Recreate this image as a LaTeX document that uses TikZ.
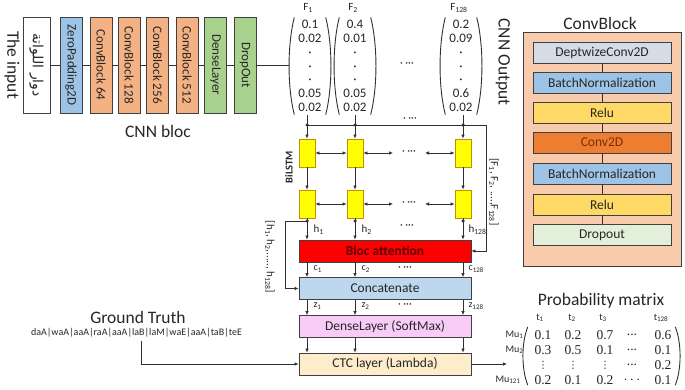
\documentclass[tikz,border=0pt]{standalone}
\usepackage{fontspec}
\setmainfont{Carlito}
\newfontfamily\serifnum{Liberation Serif}
\newfontfamily\dejavu{DejaVu Sans}
\newfontfamily\arabicfont[Script=Arabic]{DejaVu Sans}
\TeXXeTstate=1
\usetikzlibrary{arrows.meta,calc}
\definecolor{bluefill}{HTML}{9DC3E6}
\definecolor{orangefill}{HTML}{F4B183}
\definecolor{greenfill}{HTML}{A9D18E}
\definecolor{peach}{HTML}{F8CBAD}
\definecolor{grayblue}{HTML}{D6DCE5}
\definecolor{goldfill}{HTML}{FFD966}
\definecolor{convfill}{HTML}{ED7D31}
\definecolor{convtxt}{HTML}{7A2E05}
\definecolor{palegreen}{HTML}{E2F0D9}
\definecolor{lstmfill}{HTML}{FFFF00}
\definecolor{lstmedge}{HTML}{BF9000}
\definecolor{concatfill}{HTML}{BDD7EE}
\definecolor{pinkfill}{HTML}{F9CCF8}
\definecolor{ctcfill}{HTML}{FDEDCB}
\definecolor{edgec}{HTML}{404040}
\definecolor{linec}{HTML}{303030}
\definecolor{txt}{HTML}{262626}
\definecolor{attxt}{HTML}{5A0000}
\newcommand{\fsz}[1]{\fontsize{#1}{#1}\selectfont}
\newcommand{\mydots}{...}
\newcommand{\mycdots}{\(\cdots\)}
\newcommand{\myvdots}{{\dejavu\fsz{10}⋮}}
\tikzset{
  cnnblk/.style={draw=edgec, line width=0.8pt, minimum width=22pt, minimum height=96pt, inner sep=0pt, font=\fsz{13}},
  cbbox/.style={draw=edgec, line width=0.8pt, minimum width=138pt, minimum height=21pt, inner sep=0pt, font=\fsz{13.5}},
  lstm/.style={draw=lstmedge, fill=lstmfill, line width=0.8pt, minimum width=16pt, minimum height=28pt, inner sep=0pt},
  wide/.style={draw=edgec, line width=0.8pt, minimum width=172pt, minimum height=22pt, inner sep=0pt, font=\fsz{13.5}},
  conn/.style={draw=linec, line width=0.7pt},
  arr/.style={conn, -{Latex[length=4pt,width=3.5pt]}},
  darr/.style={conn, {Latex[length=4pt,width=3.5pt]}-{Latex[length=4pt,width=3.5pt]}},
  jdot/.style={circle, fill=linec, inner sep=0pt, minimum size=3.5pt},
  titletxt/.style={font=\fsz{17.5}},
  smalltxt/.style={font=\fsz{11}},
  tinytxt/.style={font=\fsz{10}},
  vec/.style={minimum width=41pt, minimum height=97pt, inner sep=0pt, align=center, font=\fontsize{13}{13.8}\selectfont},
  paren/.style={draw=linec, line width=0.9pt},
  valtxt/.style={font=\serifnum\fsz{13.5}, inner sep=1pt},
}
\begin{document}
\begin{tikzpicture}[x=1pt,y=-1pt, every node/.style={text=txt}]
\useasboundingbox (0,0) rectangle (685,390);

% ---------------- CNN bloc ----------------
\node[rotate=-90, titletxt] (theinput) at (12,65) {The input};
\node[cnnblk, fill=white, minimum width=27pt] (inp) at (36.5,65) {\rotatebox{-90}{\fsz{14}\arabicfont\beginR دوار اللواتة\endR}};
\node[cnnblk, fill=bluefill] (zp) at (71,65) {\rotatebox{-90}{ZeroPadding2D}};
\node[cnnblk, fill=orangefill] (c64) at (101,65) {\rotatebox{-90}{ConvBlock 64}};
\node[cnnblk, fill=orangefill] (c128) at (129,65) {\rotatebox{-90}{ConvBlock 128}};
\node[cnnblk, fill=orangefill] (c256) at (157.5,65) {\rotatebox{-90}{ConvBlock 256}};
\node[cnnblk, fill=orangefill] (c512) at (187,65) {\rotatebox{-90}{ConvBlock 512}};
\node[cnnblk, fill=greenfill] (dense) at (215.5,65) {\rotatebox{-90}{DenseLayer}};
\node[cnnblk, fill=greenfill] (drop) at (245,65) {\rotatebox{-90}{DropOut}};
\node[titletxt] (cnnbloc) at (158,131) {CNN bloc};
\draw[conn] (inp.east) -- (zp.west);
\draw[conn] (zp.east) -- (c64.west);
\draw[conn] (c64.east) -- (c128.west);
\draw[conn] (c128.east) -- (c256.west);
\draw[conn] (c256.east) -- (c512.west);
\draw[conn] (c512.east) -- (dense.west);
\draw[conn] (dense.east) -- (drop.west);

% ---------------- CNN output vectors ----------------
\node[vec] (f1) at (310,66) {0.1\\0.02\\·\\·\\·\\0.05\\0.02};
\node[vec] (f2) at (355,66) {0.4\\0.01\\·\\·\\·\\0.05\\0.02};
\node[vec] (f128) at (461,66) {0.2\\0.09\\·\\·\\·\\0.6\\0.02};
\foreach \v in {f1,f2,f128} {
  \draw[paren] ([xshift=5pt]\v.north west) .. controls +(-7,28) and +(-7,-28) .. ([xshift=5pt]\v.south west);
  \draw[paren] ([xshift=-5pt]\v.north east) .. controls +(7,28) and +(7,-28) .. ([xshift=-5pt]\v.south east);
}
\node[smalltxt] (lf1) at (308,8) {F\textsubscript{1}};
\node[smalltxt] (lf2) at (353,8) {F\textsubscript{2}};
\node[smalltxt] (lf128) at (459,8) {F\textsubscript{128}};
\node[smalltxt] (vdots) at (407,65) {· ···};
\node[rotate=-90, titletxt] (cnnout) at (503,62) {CNN Output};
\draw[conn] (drop.east) -- (drop.east -| f1.west);

% ---------------- lower column boxes ----------------
\node[wide, fill=red, font=\fsz{13.5}\bfseries, text=attxt] (att) at (385,251) {Bloc attention};
\node[wide, fill=concatfill] (cat) at (385,288.5) {Concatenate};
\node[wide, fill=pinkfill] (den) at (385,326.5) {DenseLayer (SoftMax)};
\node[wide, fill=ctcfill] (ctc) at (385,364) {CTC layer (Lambda)};

% ---------------- BiLSTM ----------------
\coordinate (col1) at (307,0);
\coordinate (col2) at (355,0);
\coordinate (col3) at (463,0);
\foreach \c in {1,2,3} {
  \node[lstm] (la\c) at ($(col\c)+(0,153)$) {};
  \node[lstm] (lb\c) at ($(col\c)+(0,204)$) {};
  \draw[arr] (la\c.south) -- (lb\c.north);
}
\node[rotate=90, font=\fsz{10.5}\bfseries] (bilstm) at (289,167) {BiLSTM};
\draw[arr] (la1.north |- f1.south) -- (la1.north);
\draw[arr] (la2.north |- f2.south) -- (la2.north);
\draw[arr] (la3.north |- f128.south) -- (la3.north);
\coordinate (tbus) at (486,125);
\draw[arr] (la1.north |- tbus) -- (tbus) |- (att.east);
\foreach \c in {1,2,3} \node[jdot] (td\c) at (la\c.north |- tbus) {};
\node[smalltxt] (topdots) at (410,120) {· ···};
\node[rotate=-90, smalltxt] (flist) at (494,192) {[F\textsubscript{1}, F\textsubscript{2}, ....,F\textsubscript{128}]};

\coordinate (ra1) at (393,153);
\coordinate (ra2) at (425,153);
\coordinate (rb1) at (393,204);
\coordinate (rb2) at (425,204);
\draw[darr] (la1.east) -- (la2.west);
\draw[darr] (la2.east) -- (ra1);
\draw[darr] (ra2) -- (la3.west);
\draw[darr] (lb1.east) -- (lb2.west);
\draw[darr] (lb2.east) -- (rb1);
\draw[darr] (rb2) -- (lb3.west);
\node[smalltxt] (rowadots) at (409,153) {· ···};
\node[smalltxt] (rowbdots) at (409,204) {· ···};

% h outputs
\coordinate (hbus) at (285,221);
\foreach \c in {1,2,3} {
  \draw[arr] (lb\c.south) -- (att.north -| lb\c.south);
  \node[jdot] (hd\c) at (lb\c.south |- hbus) {};
}
\draw[arr] (lb1.south |- hbus) -- (hbus) |- (cat.west);
\node[smalltxt, anchor=west] (h1) at (310,230) {h\textsubscript{1}};
\node[smalltxt, anchor=west] (h2) at (358,230) {h\textsubscript{2}};
\node[smalltxt, anchor=west] (h128) at (465,230) {h\textsubscript{128}};
\node[smalltxt] (hdots) at (407,227) {· ···};
\node[rotate=-90, smalltxt] (hlist) at (270,257) {[h\textsubscript{1}, h\textsubscript{2},....., h\textsubscript{128}]};

% c and z
\foreach \c in {1,2,3} {
  \draw[arr] (att.south -| col\c) -- (cat.north -| col\c);
  \draw[arr] (cat.south -| col\c) -- (den.north -| col\c);
  \draw[arr] (den.south -| col\c) -- (ctc.north -| col\c);
}
\node[tinytxt, anchor=west] (cl1) at (310,269) {c\textsubscript{1}};
\node[tinytxt, anchor=west] (cl2) at (358,269) {c\textsubscript{2}};
\node[tinytxt, anchor=west] (cl128) at (465,269) {c\textsubscript{128}};
\node[smalltxt] (cdots) at (405,269) {· ···};
\node[tinytxt, anchor=west] (zl1) at (310,306) {z\textsubscript{1}};
\node[tinytxt, anchor=west] (zl2) at (358,306) {z\textsubscript{2}};
\node[tinytxt, anchor=west] (zl128) at (465,306) {z\textsubscript{128}};
\node[smalltxt] (zdots) at (405,306) {· ···};

% ---------------- Ground truth ----------------
\node[titletxt] (gtt) at (138,317) {Ground Truth};
\node[tinytxt] (gtx) at (136.5,333) {daA|waA|aaA|raA|aaA|laB|laM|waE|aaA|taB|teE};
\draw[arr] ([xshift=4.5pt]gtx.south) |- (ctc.west);

% ---------------- Probability matrix ----------------
\node[titletxt] (pmt) at (601,301) {Probability matrix};
\node[tinytxt] (t1) at (540,318) {t\textsubscript{1}};
\node[tinytxt] (t2) at (572,318) {t\textsubscript{2}};
\node[tinytxt] (t3) at (603,318) {t\textsubscript{3}};
\node[tinytxt] (t128) at (661,318) {t\textsubscript{128}};
\node[tinytxt, anchor=east] (mu1) at (527,335) {Mu\textsubscript{1}};
\node[tinytxt, anchor=east] (mu2) at (527,350) {Mu\textsubscript{2}};
\node[tinytxt, anchor=east] (mu121) at (524,380) {Mu\textsubscript{121}};
\foreach \r/\y/\va/\vb/\vc/\vd/\ve in {1/335/0.1/0.2/0.7/\mydots/0.6, 2/350/0.3/0.5/0.1/\mydots/0.1, 3/365/\myvdots/\myvdots/\myvdots/\mydots/0.2, 4/380/0.2/0.1/0.2/\mycdots/0.1} {
  \node[valtxt] (pm-\r-1) at (543,\y) {\va};
  \node[valtxt] (pm-\r-2) at (573,\y) {\vb};
  \node[valtxt] (pm-\r-3) at (605,\y) {\vc};
  \node[valtxt] (pm-\r-4) at (632,\y) {\vd};
  \node[valtxt] (pm-\r-5) at (663,\y) {\ve};
}
\node[minimum width=157pt, minimum height=58pt, inner sep=0pt] (pmb) at (601.5,356) {};
\draw[paren] ([xshift=5pt]pmb.north west) .. controls +(-6.5,16) and +(-6.5,-16) .. ([xshift=5pt]pmb.south west);
\draw[paren] ([xshift=-5pt]pmb.north east) .. controls +(6.5,16) and +(6.5,-16) .. ([xshift=-5pt]pmb.south east);
\coordinate (pin) at (507,364);
\draw[arr] (ctc.east) -- (pin);

% ---------------- ConvBlock ----------------
\node[titletxt] (cbt) at (600,23) {ConvBlock};
\node[draw=edgec, line width=0.8pt, fill=peach, minimum width=158pt, minimum height=234pt, inner sep=0pt] (cbo) at (602,149) {};
\node[cbbox, fill=grayblue] (b1) at (602,52.5) {DeptwizeConv2D};
\node[cbbox, fill=bluefill] (b2) at (602,82.5) {BatchNormalization};
\node[cbbox, fill=goldfill] (b3) at (602,112.5) {Relu};
\node[cbbox, fill=convfill, text=convtxt] (b4) at (602,142.5) {Conv2D};
\node[cbbox, fill=bluefill] (b5) at (602,173.5) {BatchNormalization};
\node[cbbox, fill=goldfill] (b6) at (602,204.5) {Relu};
\node[cbbox, fill=palegreen] (b7) at (602,235) {Dropout};
\draw[conn] (b1.south) -- (b2.north);
\draw[conn] (b2.south) -- (b3.north);
\draw[conn] (b3.south) -- (b4.north);
\draw[conn] (b4.south) -- (b5.north);
\draw[conn] (b5.south) -- (b6.north);
\draw[conn] (b6.south) -- (b7.north);
\end{tikzpicture}
\end{document}
